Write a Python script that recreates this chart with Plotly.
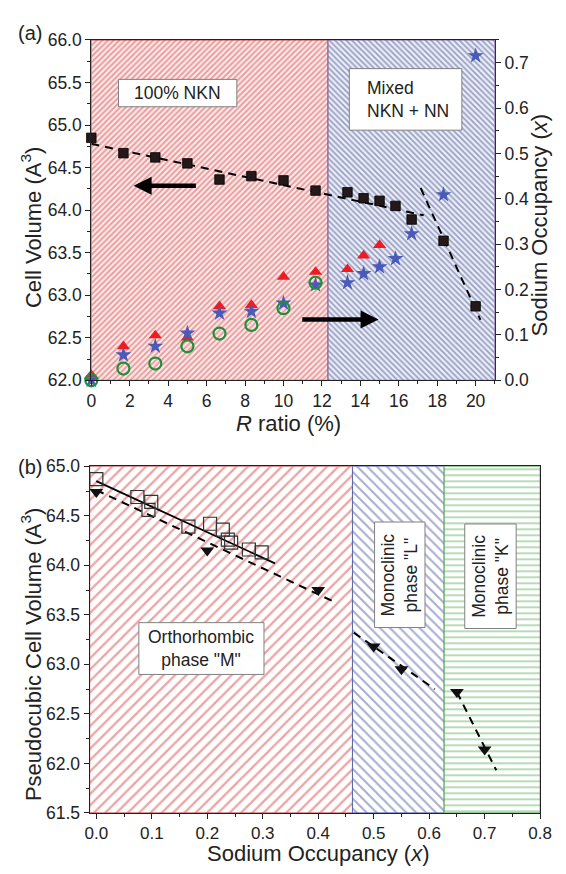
import plotly.graph_objects as go

# ---------------- data: panel (a) ----------------
R_RATIO = [0.0, 1.67, 3.33, 5.0, 6.67, 8.33, 10.0, 11.67, 13.33, 14.17, 15.0, 15.83, 16.67, 18.33, 20.0]
CELL_VOLUME = [64.85, 64.67, 64.62, 64.55, 64.36, 64.40, 64.35, 64.23, 64.21, 64.14, 64.11, 64.05, 63.89, 63.64, 62.87]

R_TRI = [0.0, 1.67, 3.33, 5.0, 6.67, 8.33, 10.0, 11.67, 13.33, 14.17, 15.0]
NA_TRI = [0.012, 0.075, 0.099, 0.094, 0.163, 0.166, 0.228, 0.239, 0.245, 0.275, 0.298]

R_STAR = [0.0, 1.67, 3.33, 5.0, 6.67, 8.33, 10.0, 11.67, 13.33, 14.17, 15.0, 15.83, 16.67, 18.33, 20.0]
NA_STAR = [0.0, 0.056, 0.075, 0.104, 0.148, 0.152, 0.170, 0.210, 0.215, 0.235, 0.250, 0.268, 0.323, 0.409, 0.715]

R_CIRC = [0.0, 1.67, 3.33, 5.0, 6.67, 8.33, 10.0, 11.67]
NA_CIRC = [0.0, 0.026, 0.037, 0.075, 0.103, 0.122, 0.159, 0.215]

# linear guides through the cell-volume data
FIT_A1_R = [0.0, 17.3]
FIT_A1_V = [64.78, 63.94]
FIT_A2_R = [17.14, 20.25]
FIT_A2_V = [64.26, 62.71]

# region boundaries (R ratio): 100% NKN | mixed NKN + NN
REGION_A_EDGES = [0.0, 12.32, 21.0]

# ---------------- data: panel (b) ----------------
SQ_X = [0.0, 0.074, 0.099, 0.094, 0.166, 0.205, 0.228, 0.237, 0.243, 0.275, 0.298]
SQ_V = [64.87, 64.69, 64.64, 64.56, 64.39, 64.42, 64.36, 64.26, 64.23, 64.16, 64.13]

TRI_X = [0.0, 0.2, 0.4, 0.5, 0.55, 0.65, 0.7]
TRI_V = [64.74, 64.15, 63.75, 63.18, 62.95, 62.72, 62.14]

FIT_B0_X = [0.0, 0.322]
FIT_B0_V = [64.85, 64.02]
FIT_B1_X = [0.0, 0.433]
FIT_B1_V = [64.76, 63.62]
FIT_B2_X = [0.464, 0.61]
FIT_B2_V = [63.32, 62.75]
FIT_B3_X = [0.65, 0.721]
FIT_B3_V = [62.72, 61.93]

# phase boundaries (sodium occupancy): M | L | K
REGION_B_EDGES = [-0.012, 0.4617, 0.627, 0.8]

# ---------------- layout helpers ----------------
W, H = 566, 874
FONT = "Liberation Sans, Arial, sans-serif"
INK = "#222222"


def px(x):
    return x / W


def py(y):
    return 1 - y / H


fig = go.Figure()


def region(edges, i, xaxis, yaxis, lo, hi, shape, fg, bg, size, solidity, edge):
    x0, x1 = edges[i], edges[i + 1]
    fig.add_trace(go.Bar(
        x=[(x0 + x1) / 2], y=[hi - lo], base=[lo], width=[x1 - x0],
        xaxis=xaxis, yaxis=yaxis,
        marker=dict(color=bg, line=dict(color=edge, width=1),
                    pattern=dict(shape=shape, fgcolor=fg, bgcolor=bg,
                                 size=size, solidity=solidity)),
        showlegend=False, hoverinfo="skip"))


# hatched regions, panel (a)
region(REGION_A_EDGES, 0, "x", "y", 62.0, 66.0, "/", "#d94444", "#fbe9e9", 4, 0.45, "#b84040")
region(REGION_A_EDGES, 1, "x", "y", 62.0, 66.0, "\\", "#3e4c90", "#eceef6", 4, 0.42, "#8060a0")
# hatched regions, panel (b)
region(REGION_B_EDGES, 0, "x2", "y3", 61.5, 65.0, "/", "#d94848", "white", 8, 0.28, "#c05858")
region(REGION_B_EDGES, 1, "x2", "y3", 61.5, 65.0, "\\", "#4d5aa0", "white", 7, 0.28, "#5868a8")
region(REGION_B_EDGES, 2, "x2", "y3", 61.5, 65.0, "-", "#4fa84f", "white", 6, 0.28, "#60a860")

DASH = "8px,6px"

# ---------------- panel (a) traces ----------------
fig.add_trace(go.Scatter(x=FIT_A1_R, y=FIT_A1_V, mode="lines", xaxis="x", yaxis="y",
                         line=dict(color="black", width=2, dash=DASH), showlegend=False))
fig.add_trace(go.Scatter(x=FIT_A2_R, y=FIT_A2_V, mode="lines", xaxis="x", yaxis="y",
                         line=dict(color="black", width=2, dash=DASH), showlegend=False))
fig.add_trace(go.Scatter(x=R_RATIO, y=CELL_VOLUME, mode="markers", xaxis="x", yaxis="y",
                         marker=dict(symbol="square", size=9.5, color="#241818",
                                     line=dict(color="black", width=0.8)),
                         cliponaxis=False, showlegend=False))
fig.add_trace(go.Scatter(x=R_TRI, y=NA_TRI, mode="markers", xaxis="x", yaxis="y2",
                         marker=dict(symbol="triangle-up", size=11.5, color="#ec1c24"),
                         cliponaxis=False, showlegend=False))
fig.add_trace(go.Scatter(x=R_STAR, y=NA_STAR, mode="markers", xaxis="x", yaxis="y2",
                         marker=dict(symbol="star", size=12, color="#4a5ab8"),
                         cliponaxis=False, showlegend=False))
fig.add_trace(go.Scatter(x=R_CIRC, y=NA_CIRC, mode="markers", xaxis="x", yaxis="y2",
                         marker=dict(symbol="circle-open", size=12, color="#1f8f3a",
                                     line=dict(width=2.2)),
                         cliponaxis=False, showlegend=False))

# ---------------- panel (b) traces ----------------
fig.add_trace(go.Scatter(x=FIT_B0_X, y=FIT_B0_V, mode="lines", xaxis="x2", yaxis="y3",
                         line=dict(color="black", width=1.8), showlegend=False))
for fx, fv in [(FIT_B1_X, FIT_B1_V), (FIT_B2_X, FIT_B2_V), (FIT_B3_X, FIT_B3_V)]:
    fig.add_trace(go.Scatter(x=fx, y=fv, mode="lines", xaxis="x2", yaxis="y3",
                             line=dict(color="black", width=2, dash=DASH), showlegend=False))
fig.add_trace(go.Scatter(x=SQ_X, y=SQ_V, mode="markers", xaxis="x2", yaxis="y3",
                         marker=dict(symbol="square-open", size=13, color="#333333",
                                     line=dict(width=1.2)),
                         cliponaxis=False, showlegend=False))
fig.add_trace(go.Scatter(x=TRI_X, y=TRI_V, mode="markers", xaxis="x2", yaxis="y3",
                         marker=dict(symbol="triangle-down", size=12, color="#111111"),
                         cliponaxis=False, showlegend=False))

# ---------------- axes ----------------
def axis(**kw):
    base = dict(showline=True, linecolor=INK, linewidth=1.2, ticks="outside",
                ticklen=5, tickwidth=1, tickcolor=INK, showgrid=False, zeroline=False,
                tickfont=dict(family=FONT, size=17.5, color=INK),
                minor=dict(ticks="outside", ticklen=3, tickcolor=INK, showgrid=False))
    base.update(kw)
    return base


fig.update_layout(
    width=W, height=H, margin=dict(l=0, r=0, t=0, b=0),
    paper_bgcolor="white", plot_bgcolor="white", barmode="overlay",
    font=dict(family=FONT, color=INK),
    xaxis=axis(domain=[px(89), px(505)], anchor="y", range=[0, 21], dtick=2, tick0=0,
               mirror=True, minor=dict(ticks="outside", ticklen=3, tickcolor=INK, dtick=1)),
    yaxis=axis(domain=[py(379), py(30.7)], anchor="x", range=[62, 66], dtick=0.5,
               tickformat=".1f", mirror=True,
               minor=dict(ticks="outside", ticklen=3, tickcolor=INK, dtick=0.25)),
    yaxis2=axis(overlaying="y", side="right", anchor="x", range=[0, 0.75], dtick=0.1,
                tick0=0, tickformat=".1f", linecolor="#2a2f55",
                minor=dict(ticks="outside", ticklen=3, tickcolor=INK, dtick=0.05)),
    xaxis2=axis(domain=[px(87.3), px(551.7)], anchor="y3", range=[-0.012, 0.8], dtick=0.1,
                tick0=0, tickformat=".1f", mirror=True,
                tickfont=dict(family=FONT, size=17, color=INK),
                minor=dict(ticks="outside", ticklen=3, tickcolor=INK, dtick=0.05, tick0=0)),
    yaxis3=axis(domain=[py(821.7), py(467)], anchor="x2", range=[61.5, 65], dtick=0.5,
                tickformat=".1f", mirror=True,
                minor=dict(ticks="outside", ticklen=3, tickcolor=INK, dtick=0.25)),
)

# ---------------- text boxes ----------------
BOXES = [(117, 71, 239, 99), (355, 60, 471, 123), (138, 627, 267, 680),
         (381, 524, 433, 632), (474, 526, 527, 633)]
for l, t, r, b in BOXES:
    fig.add_shape(type="rect", xref="paper", yref="paper", x0=px(l), x1=px(r),
                  y0=py(b), y1=py(t), fillcolor="white", line=dict(color="#808080", width=1),
                  layer="above")

BOX_FONT = dict(family=FONT, size=17.5, color=INK)
ann = []
ann.append(dict(text="100% NKN", x=px(178), y=py(85), xanchor="center", yanchor="middle"))
ann.append(dict(text="Mixed<br>NKN + NN", x=px(371), y=py(91.5), xanchor="left",
                yanchor="middle", align="left"))
ann.append(dict(text='Orthorhombic<br>phase "M"', x=px(202.5), y=py(653.5),
                xanchor="center", yanchor="middle"))
ann.append(dict(text='Monoclinic<br>phase "L"', x=px(407), y=py(578), textangle=-90,
                xanchor="center", yanchor="middle"))
ann.append(dict(text='Monoclinic<br>phase "K"', x=px(500.5), y=py(579.5), textangle=-90,
                xanchor="center", yanchor="middle"))
for a in ann:
    a.update(xref="paper", yref="paper", showarrow=False, font=BOX_FONT)
    fig.add_annotation(**a)

# ---------------- axis titles and panel labels ----------------
TITLE_FONT = dict(family=FONT, size=22, color=INK)
titles = [
    dict(text="Cell Volume (A<sup>3</sup>)", x=px(27), y=py(223), textangle=-90),
    dict(text="Sodium Occupancy (<i>x</i>)", x=px(552), y=py(220), textangle=-90),
    dict(text="<i>R</i> ratio (%)", x=px(292), y=py(423)),
    dict(text="Pseudocubic Cell Volume (A<sup>3</sup>)", x=px(27), y=py(660), textangle=-90),
    dict(text="Sodium Occupancy (<i>x</i>)", x=px(323), y=py(863)),
]
for t in titles:
    t.update(xref="paper", yref="paper", showarrow=False, font=TITLE_FONT,
             xanchor="center", yanchor="middle")
    fig.add_annotation(**t)

for lab, yy in [("(a)", 24), ("(b)", 468)]:
    fig.add_annotation(text=lab, x=px(26), y=py(yy), xref="paper", yref="paper",
                       showarrow=False, xanchor="center", yanchor="middle",
                       font=dict(family=FONT, size=20, color=INK))

# ---------------- arrows (which axis each series belongs to) ----------------
fig.add_annotation(x=2.2, y=64.286, ax=5.52, ay=64.286, xref="x", yref="y",
                   axref="x", ayref="y", text="", showarrow=True,
                   arrowhead=2, arrowsize=0.8, arrowwidth=4.5, arrowcolor="black")
fig.add_annotation(x=14.95, y=0.134, ax=10.9, ay=0.134, xref="x", yref="y2",
                   axref="x", ayref="y2", text="", showarrow=True,
                   arrowhead=2, arrowsize=0.8, arrowwidth=4.5, arrowcolor="black")

fig.write_html("out.html")
